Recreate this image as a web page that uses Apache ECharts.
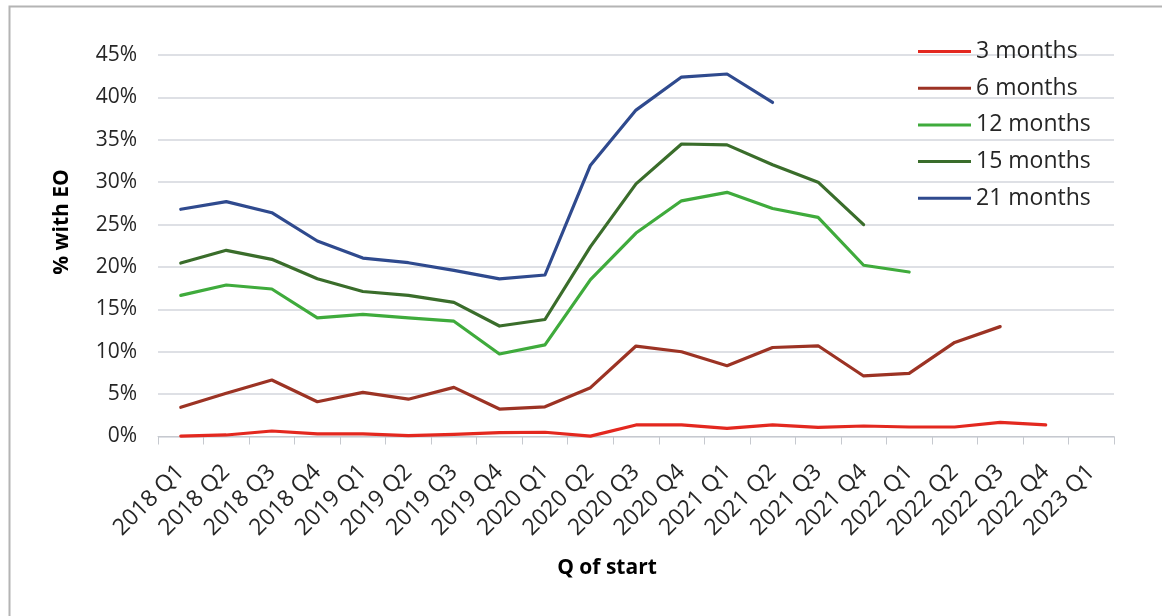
<!DOCTYPE html>
<html>
<head>
<meta charset="utf-8">
<title>% with EO by quarter of start</title>
<script src="https://cdn.jsdelivr.net/npm/echarts@6/dist/echarts.min.js"></script>
<style>
  html, body { margin: 0; padding: 0; background: #ffffff; }
  #chart { width: 1162px; height: 616px; }
</style>
</head>
<body>
<div id="chart"></div>
<script>
// Quarter in which the spell started
const quarters = [
  '2018 Q1', '2018 Q2', '2018 Q3', '2018 Q4',
  '2019 Q1', '2019 Q2', '2019 Q3', '2019 Q4',
  '2020 Q1', '2020 Q2', '2020 Q3', '2020 Q4',
  '2021 Q1', '2021 Q2', '2021 Q3', '2021 Q4',
  '2022 Q1', '2022 Q2', '2022 Q3', '2022 Q4',
  '2023 Q1'
];

// Share (%) with an EO after each follow-up period; null = not yet observable
const months3 = [0.05, 0.18, 0.65, 0.3, 0.3, 0.1, 0.26, 0.45, 0.5, 0.05, 1.36, 1.36, 0.96, 1.36, 1.08, 1.24, 1.12, 1.12, 1.67, 1.36, null];
const months6 = [3.44, 5.1, 6.66, 4.1, 5.2, 4.4, 5.8, 3.24, 3.5, 5.76, 10.67, 10.0, 8.35, 10.5, 10.7, 7.14, 7.45, 11.1, 12.96, null, null];
const months12 = [16.65, 17.87, 17.4, 14.0, 14.4, 14.0, 13.6, 9.73, 10.8, 18.5, 24.0, 27.8, 28.8, 26.9, 25.85, 20.2, 19.4, null, null, null, null];
const months15 = [20.46, 21.96, 20.9, 18.6, 17.1, 16.65, 15.83, 13.03, 13.8, 22.4, 29.8, 34.5, 34.4, 32.06, 30.0, 25.0, null, null, null, null, null];
const months21 = [26.8, 27.7, 26.4, 23.06, 21.05, 20.5, 19.6, 18.6, 19.05, 32.0, 38.5, 42.4, 42.76, 39.4, null, null, null, null, null, null, null];

const seriesNames = ['3 months', '6 months', '12 months', '15 months', '21 months'];
const seriesData = [months3, months6, months12, months15, months21];
const seriesColors = ['#e3281f', '#9c3324', '#3fab3c', '#3a6d2b', '#2f4a8e'];

// y-axis range (percent)
const yMin = 0;
const yMax = 45;
const yStep = 5;

const FONT = '"Open Sans", "Noto Sans", Lato, sans-serif';

const chart = echarts.init(document.getElementById('chart'), null, { renderer: 'canvas' });

chart.setOption({
  backgroundColor: '#ffffff',
  animation: false,
  grid: { left: 158, right: 48, top: 55, bottom: 179.5, containLabel: false },
  legend: {
    orient: 'vertical',
    left: 918,
    top: 40,
    padding: 0,
    icon: 'rect',
    itemWidth: 53,
    itemHeight: 3,
    itemGap: 13.7,
    data: seriesNames,
    textStyle: { fontFamily: FONT, fontSize: 23, color: '#262626', lineHeight: 21, padding: [0, 0, 0, 0] }
  },
  xAxis: {
    type: 'category',
    data: quarters,
    boundaryGap: true,
    axisLine: { show: true, lineStyle: { color: '#c6c9cf', width: 1 } },
    axisTick: { show: true, length: 8, lineStyle: { color: '#c6c9cf', width: 1 } },
    axisLabel: {
      interval: 0,
      rotate: 45,
      margin: 32,
      fontFamily: FONT,
      fontSize: 23,
      color: '#262626'
    },
    splitLine: { show: false }
  },
  yAxis: {
    type: 'value',
    min: yMin,
    max: yMax,
    interval: yStep,
    axisLine: { show: false },
    axisTick: { show: false },
    axisLabel: {
      formatter: '{value}%',
      margin: 21,
      fontFamily: FONT,
      fontSize: 21,
      color: '#262626'
    },
    splitLine: { show: true, lineStyle: { color: '#d3d6dc', width: 1.5 } }
  },
  graphic: [
    {
      type: 'rect',
      silent: true,
      shape: { x: 9.5, y: 6.5, width: 1170, height: 640 },
      style: { fill: 'none', stroke: '#b4b4b4', lineWidth: 2 }
    },
    {
      type: 'text',
      silent: true,
      x: 62,
      y: 222,
      rotation: Math.PI / 2,
      style: {
        text: '% with EO',
        fontFamily: FONT,
        fontSize: 21,
        fontWeight: 'bold',
        fill: '#000000',
        align: 'center',
        verticalAlign: 'middle'
      }
    },
    {
      type: 'text',
      silent: true,
      x: 607,
      y: 568,
      style: {
        text: 'Q of start',
        fontFamily: FONT,
        fontSize: 21,
        fontWeight: 'bold',
        fill: '#000000',
        align: 'center',
        verticalAlign: 'middle'
      }
    }
  ],
  series: seriesNames.map((name, i) => ({
    name: name,
    type: 'line',
    data: seriesData[i],
    symbol: 'none',
    showSymbol: false,
    connectNulls: false,
    color: seriesColors[i],
    lineStyle: { color: seriesColors[i], width: 3.2, cap: 'round', join: 'round' },
    emphasis: { disabled: true }
  }))
});
</script>
</body>
</html>
